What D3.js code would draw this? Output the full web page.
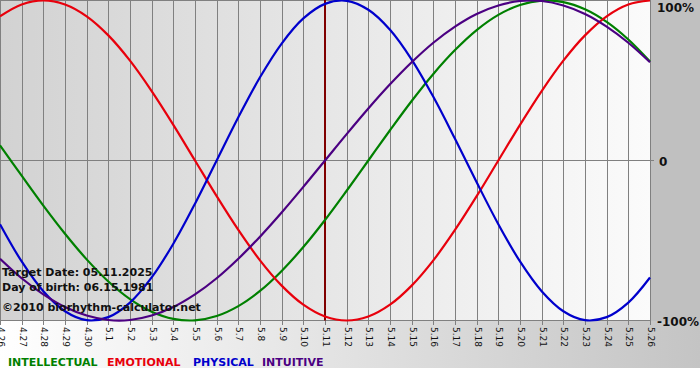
<!DOCTYPE html>
<html lang="en">
<head>
<meta charset="UTF-8" />
<title>Biorhythm chart</title>
<script src="https://d3js.org/d3.v7.min.js"></script>
<style>
    body { margin: 0; background: #fff; }
    svg { display: block; }
    text { font-family: 'DejaVu Sans', Verdana, sans-serif; }
    .tick-label { font-size: 9px; fill: #111; }
    .pct { font-size: 12px; font-weight: bold; fill: #111; }
    .info { font-size: 11px; font-weight: bold; fill: #111; }
    .legend { font-size: 11px; font-weight: bold; }
    .grid { stroke: #808080; stroke-width: 1; }
</style>
</head>
<body>
<svg id="chart" width="700" height="380"></svg>
<script>
// days shown (month.day)
var days = ['4.26','4.27','4.28','4.29','4.30','5.1','5.2','5.3','5.4','5.5','5.6','5.7','5.8','5.9','5.10',
            '5.11','5.12','5.13','5.14','5.15','5.16','5.17','5.18','5.19','5.20','5.21','5.22','5.23','5.24','5.25','5.26'];
var targetDay = '5.11';

// cycle values in %, one per day
var intellectual = [9.5,-9.5,-28.2,-45.8,-61.8,-75.6,-86.6,-94.5,-99.0,-99.9,-97.2,-91.0,-81.5,-69.0,-54.1,
                    -37.2,-18.9,0,18.9,37.2,54.1,69.0,81.5,91.0,97.2,99.9,99.0,94.5,86.6,75.6,61.8];
var emotional    = [90.1,97.5,100,97.5,90.1,78.2,62.4,43.4,22.3,0,-22.3,-43.4,-62.4,-78.2,-90.1,
                    -97.5,-100,-97.5,-90.1,-78.2,-62.4,-43.4,-22.3,0,22.3,43.4,62.4,78.2,90.1,97.5,100];
var physical     = [-39.8,-63.1,-81.7,-94.2,-99.8,-97.9,-88.8,-73.1,-52.0,-27.0,0,27.0,52.0,73.1,88.8,
                    97.9,99.8,94.2,81.7,63.1,39.8,13.6,-13.6,-39.8,-63.1,-81.7,-94.2,-99.8,-97.9,-88.8,-73.1];
var intuitive    = [-61.4,-73.6,-83.7,-91.6,-96.9,-99.7,-99.7,-96.9,-91.6,-83.7,-73.6,-61.4,-47.6,-32.5,-16.5,
                    0,16.5,32.5,47.6,61.4,73.6,83.7,91.6,96.9,99.7,99.7,96.9,91.6,83.7,73.6,61.4];

var seriesNames = ['INTELLECTUAL','EMOTIONAL','PHYSICAL','INTUITIVE'];
var seriesColors = ['#008000','#e8000c','#0000cc','#4b0082'];
var yTicks = [100, 0, -100];
var infoLines = ['Target Date: 05.11.2025', 'Day of birth: 06.15.1981', '\u00a92010 biorhythm-calculator.net'];

var series = [intellectual, emotional, physical, intuitive];

var svg = d3.select('#chart');
var plotW = 650, plotTop = 0.5, plotBottom = 320.5;

var defs = svg.append('defs');
var g1 = defs.append('linearGradient').attr('id', 'plotBg');
g1.append('stop').attr('offset', '0%').attr('stop-color', '#d2d2d2');
g1.append('stop').attr('offset', '100%').attr('stop-color', '#fbfbfb');
var g2 = defs.append('linearGradient').attr('id', 'outerBg');
g2.append('stop').attr('offset', '0%').attr('stop-color', '#ffffff');
g2.append('stop').attr('offset', '100%').attr('stop-color', '#c4c4c4');

// backgrounds
svg.append('rect').attr('x', 0).attr('y', 0).attr('width', 700).attr('height', 368).attr('fill', 'url(#outerBg)');
svg.append('rect').attr('x', plotW).attr('y', 0).attr('width', 50).attr('height', 321).attr('fill', '#c0c0c0');
svg.append('rect').attr('x', 0).attr('y', 0).attr('width', plotW).attr('height', 321).attr('fill', 'url(#plotBg)');

var x = d3.scalePoint().domain(days).range([0, plotW]);
var y = d3.scaleLinear().domain([-100, 100]).range([plotBottom, plotTop]);

// vertical day lines
svg.append('g').selectAll('line')
    .data(days)
    .enter().append('line')
    .attr('class', 'grid')
    .attr('x1', function (d) { return Math.round(x(d)) + 0.5; })
    .attr('x2', function (d) { return Math.round(x(d)) + 0.5; })
    .attr('y1', 0)
    .attr('y2', 325);

// zero + borders
svg.append('line').attr('class', 'grid').attr('x1', 0).attr('x2', plotW + 4).attr('y1', y(0)).attr('y2', y(0));
svg.append('line').attr('class', 'grid').attr('x1', 0).attr('x2', plotW).attr('y1', y(100)).attr('y2', y(100));
svg.append('line').attr('class', 'grid').attr('x1', 0).attr('x2', plotW).attr('y1', y(-100)).attr('y2', y(-100));

// target day
svg.append('line')
    .attr('x1', x(targetDay)).attr('x2', x(targetDay))
    .attr('y1', 0).attr('y2', y(-100))
    .attr('stroke', '#800000').attr('stroke-width', 2);

// curves
var line = d3.line()
    .x(function (d, i) { return x(days[i]); })
    .y(function (d) { return y(d); })
    .curve(d3.curveCatmullRom.alpha(0.5));

svg.append('g').selectAll('path')
    .data(series)
    .enter().append('path')
    .attr('d', line)
    .attr('fill', 'none')
    .attr('stroke', function (d, i) { return seriesColors[i]; })
    .attr('stroke-width', 2.2);

// day labels, rotated
svg.append('g').selectAll('text')
    .data(days)
    .enter().append('text')
    .attr('class', 'tick-label')
    .attr('transform', function (d) { return 'translate(' + (x(d) + 1) + ',327) rotate(90)'; })
    .attr('dy', '0.35em')
    .text(function (d) { return d; });

// percent labels (top one sits inside the window)
svg.append('g').selectAll('text')
    .data(yTicks)
    .enter().append('text')
    .attr('class', 'pct')
    .attr('x', function (d) { return d === 0 ? 659 : 657; })
    .attr('y', function (d) { return d === 100 ? 7.5 : y(d) + 1; })
    .attr('dy', '0.4em')
    .text(function (d) { return d === 0 ? '0' : d + '%'; });

// info text
svg.append('g').selectAll('text')
    .data(infoLines)
    .enter().append('text')
    .attr('class', 'info')
    .attr('x', 2)
    .attr('y', function (d, i) { return [276, 291, 311][i]; })
    .text(function (d) { return d; });

// legend
var legendX = [8, 107, 193, 262];
svg.append('g').selectAll('text')
    .data(seriesNames)
    .enter().append('text')
    .attr('class', 'legend')
    .attr('x', function (d, i) { return legendX[i]; })
    .attr('y', 366)
    .attr('fill', function (d, i) { return seriesColors[i]; })
    .text(function (d) { return d; });
</script>
</body>
</html>
